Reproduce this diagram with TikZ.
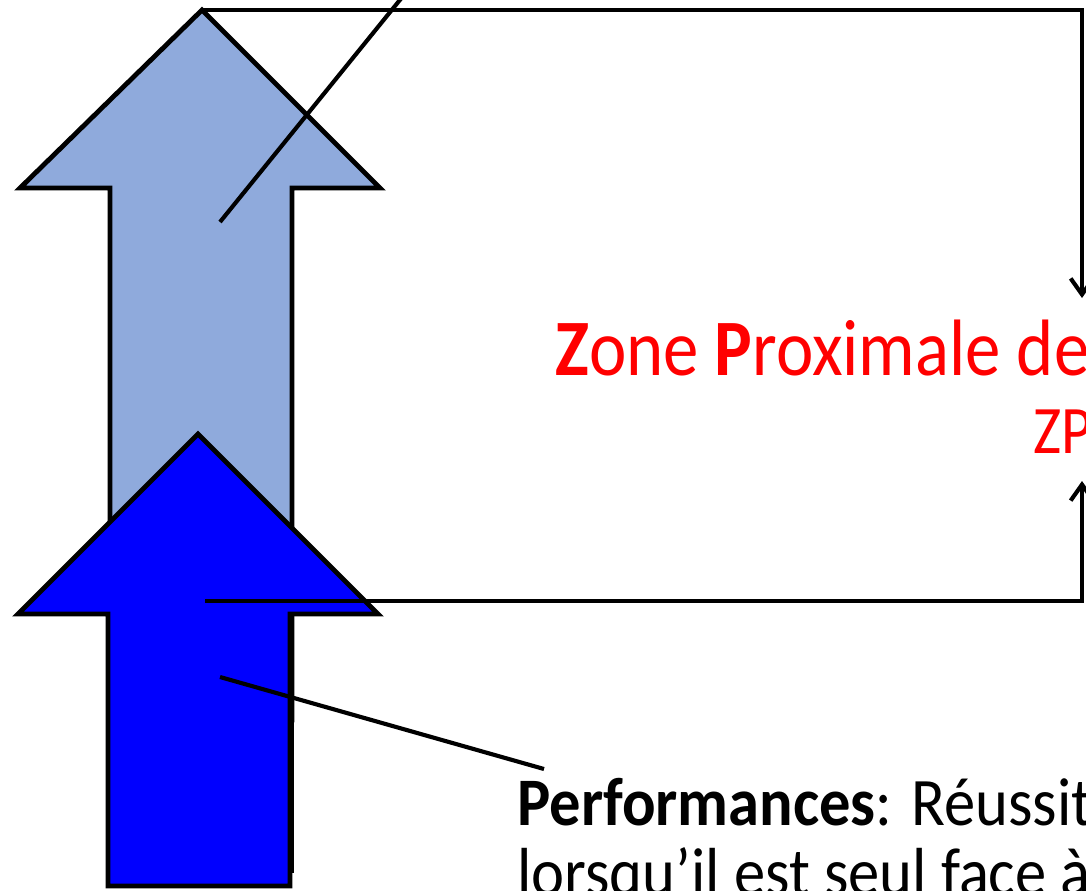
\documentclass[tikz,border=0pt]{standalone}
\usepackage{fontspec}
\setmainfont{Carlito}
\newfontfamily\zonefont[FakeStretch=0.885]{Carlito}
\newfontfamily\perffont[FakeStretch=0.92]{Carlito}
\usepackage{xcolor}
\usetikzlibrary{arrows.meta, positioning, calc}
\definecolor{lightblue}{RGB}{143,170,220}
\definecolor{deepblue}{RGB}{0,0,255}
\definecolor{zpdred}{RGB}{255,0,0}
\tikzset{
    base/.style={draw=black, line width=3.6pt, line join=miter},
    arrowlight/.style={base, fill=lightblue},
    arrowdeep/.style={base, fill=deepblue},
    line/.style={draw=black, line width=3.1pt},
    bracket/.style={line, -{Straight Barb[length=12pt, width=17pt]}},
    label/.style={inner sep=0pt, anchor=base west, align=left}
}

\begin{document}
\begin{tikzpicture}[x=0.75pt, y=-0.75pt]
    \clip (0,0) rectangle (1086,890);
    \fill[white] (0,0) rectangle (1086,890);

    % the two arrows
    \draw [arrowlight] (202,10) -- (380,188) -- (292,188) -- (292,720) -- (110,720) -- (110,188) -- (20,188) -- cycle;
    \draw [arrowdeep] (198,434) -- (378,614) -- (290,614) -- (290,886) -- (108,886) -- (108,614) -- (18,614) -- cycle;
    \draw [draw=black, line width=2pt] (293,617) -- (293,873);

    \coordinate (LightTip) at (202,10);
    \coordinate (LightIn) at (220,222);
    \coordinate (LightOut) at (412,-15);
    \coordinate (DeepMid) at (205,601);
    \coordinate (DeepIn) at (220,677);
    \coordinate (TopCorner) at (1082,10);
    \coordinate (BotCorner) at (1082,601);

    % texts
    \node [label, font=\zonefont\fontsize{60}{64}\selectfont, text=zpdred] (ZPD) at (555,375) {\textbf{Z}one \textbf{P}roximale de};
    \node [label, font=\zonefont\fontsize{51}{56}\selectfont, text=zpdred] (ZPDshort) at (1033,453) {ZP};
    \node [label, font=\perffont\fontsize{51}{52.5}\selectfont] (Perf) at (517,895) {\textbf{Performances}: Réussit\\lorsqu’il est seul face à};

    \coordinate (ZPDtop) at (1082,298);
    \coordinate (ZPDbot) at (1082,481);
    \coordinate (PerfIn) at (544,769);

    \draw [bracket] (LightTip) -- (TopCorner) -- (ZPDtop);
    \draw [bracket] (DeepMid) -- (BotCorner) -- (ZPDbot);
    \draw [line] (LightIn) -- (LightOut);
    \draw [line] (DeepIn) -- (PerfIn);
\end{tikzpicture}
\end{document}
